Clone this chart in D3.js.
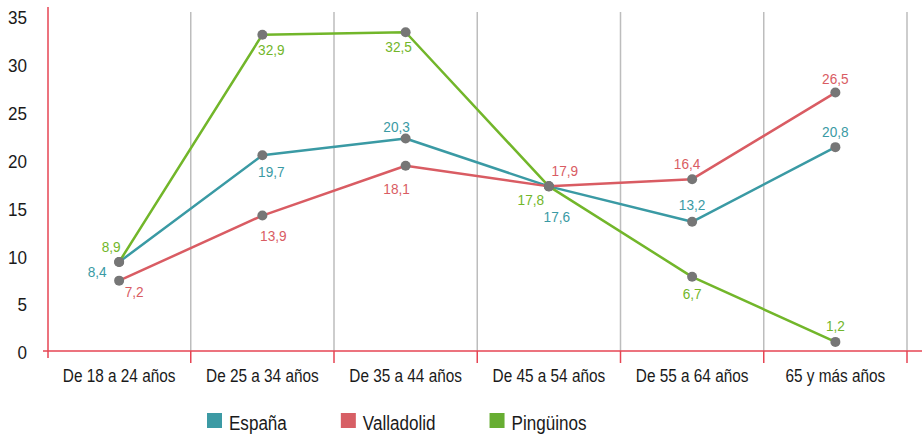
<!DOCTYPE html>
<html>
<head>
<meta charset="utf-8">
<script src="https://cdn.jsdelivr.net/npm/d3@7"></script>
<style>
  body { margin: 0; background: #fff; }
  svg text { font-family: "Liberation Sans", Arial, sans-serif; }
</style>
</head>
<body>
<script>
// Categories and series (point positions)
var categories = ["De 18 a 24 años", "De 25 a 34 años", "De 35 a 44 años", "De 45 a 54 años", "De 55 a 64 años", "65 y más años"];
var seriesNames = ["España", "Valladolid", "Pingüinos"];
var espana = [9.3, 20.45, 22.2, 17.2, 13.5, 21.3];
var valladolid = [7.35, 14.15, 19.35, 17.2, 17.95, 27.0];
var pinguinos = [9.3, 33.05, 33.3, 17.2, 7.75, 0.95];
// printed value labels
var espanaLabels = ["8,4", "19,7", "20,3", "17,6", "13,2", "20,8"];
var valladolidLabels = ["7,2", "13,9", "18,1", "17,9", "16,4", "26,5"];
var pinguinosLabels = ["8,9", "32,9", "32,5", "17,8", "6,7", "1,2"];
var yTicks = [0, 5, 10, 15, 20, 25, 30, 35];

var colors = ["#3a9aa4", "#d95c63", "#72b62a"];
var legendColors = ["#3c9aa4", "#d75f65", "#67ad32"];
// label offsets from each point (centre of text)
var labelOffsets = [
  [[-22, 9], [9, 16], [-9, -12], [8, 30], [0, -18], [0, -16]],
  [[15, 11], [11, 20], [-9, 22], [16, -16], [-5, -16], [0, -14]],
  [[-8, -16], [9, 15], [-7, 14], [-18, 13], [0, 16], [0, -17]]
];

var svgWidth = 922;
var svgHeight = 437;

var svg = d3.select("body")
  .append("svg")
  .attr("width", svgWidth)
  .attr("height", svgHeight);

var xScale = d3.scaleBand()
  .domain(categories)
  .range([47.5, 907]);

var yScale = d3.scaleLinear()
  .domain([0, 35])
  .range([351, 16]);

var axisRed = "#e64553";
var textColor = "#1a1a1a";

// gray separators between categories
svg.append("g")
  .selectAll("line")
  .data(categories)
  .enter()
  .append("line")
  .attr("x1", d => xScale(d) + xScale.step())
  .attr("x2", d => xScale(d) + xScale.step())
  .attr("y1", 12)
  .attr("y2", 351)
  .attr("stroke", "#bdbdbd")
  .attr("stroke-width", 1.5);

// x axis: labels from the axis, red baseline and ticks at band edges
var xAxis = d3.axisBottom(xScale).tickSize(0).tickPadding(18);
var xg = svg.append("g")
  .attr("transform", "translate(0,351)")
  .call(xAxis);
xg.select(".domain").remove();
xg.selectAll("text")
  .attr("fill", textColor)
  .attr("transform", "scale(0.83,1)")
  .style("font-size", "18.5px");

svg.append("line")
  .attr("x1", 43).attr("x2", 922)
  .attr("y1", 351).attr("y2", 351)
  .attr("stroke", axisRed).attr("stroke-width", 1.5);

svg.append("g")
  .selectAll("line")
  .data(categories)
  .enter()
  .append("line")
  .attr("x1", d => xScale(d) + xScale.step())
  .attr("x2", d => xScale(d) + xScale.step())
  .attr("y1", 351)
  .attr("y2", 363)
  .attr("stroke", axisRed)
  .attr("stroke-width", 1.5);

// y axis
var yAxis = d3.axisLeft(yScale).tickValues(yTicks).tickSize(0).tickPadding(0);
var yg = svg.append("g")
  .attr("transform", "translate(48,0)")
  .call(yAxis);
yg.select(".domain").remove();
yg.selectAll("text")
  .attr("x", 0)
  .attr("dy", "0.43em")
  .attr("fill", textColor)
  .attr("transform", "translate(-21,0) scale(0.95,1)")
  .style("font-size", "18px");

svg.append("line")
  .attr("x1", 48).attr("x2", 48)
  .attr("y1", 7).attr("y2", 358)
  .attr("stroke", axisRed).attr("stroke-width", 1.5);

// lines
var allSeries = [espana, valladolid, pinguinos];
var allLabels = [espanaLabels, valladolidLabels, pinguinosLabels];
var xc = d => xScale(d) + xScale.bandwidth() / 2;

var line = d3.line()
  .x((d, i) => xc(categories[i]))
  .y(d => yScale(d));

allSeries.forEach(function(values, s) {
  svg.append("path")
    .datum(values)
    .attr("d", line)
    .attr("fill", "none")
    .attr("stroke", colors[s])
    .attr("stroke-width", 2.5)
    .attr("stroke-linejoin", "round");
});

// points
allSeries.forEach(function(values) {
  svg.append("g")
    .selectAll("circle")
    .data(values)
    .enter()
    .append("circle")
    .attr("cx", (d, i) => xc(categories[i]))
    .attr("cy", d => yScale(d))
    .attr("r", 5)
    .attr("fill", "#767676");
});

// value labels
allSeries.forEach(function(values, s) {
  svg.append("g")
    .selectAll("text")
    .data(values)
    .enter()
    .append("text")
    .attr("transform", (d, i) => `translate(${xc(categories[i]) + labelOffsets[s][i][0]},${yScale(d) + labelOffsets[s][i][1]}) scale(0.88,1)`)
    .attr("dy", "0.37em")
    .attr("text-anchor", "middle")
    .attr("fill", colors[s])
    .style("font-size", "15.5px")
    .text((d, i) => allLabels[s][i]);
});

// legend
var legend = svg.append("g").attr("transform", "translate(207,413)");
var lx = 0;
seriesNames.forEach(function(name, i) {
  var item = legend.append("g").attr("transform", `translate(${lx},0)`);
  item.append("rect")
    .attr("width", 15).attr("height", 15)
    .attr("fill", legendColors[i]);
  var t = item.append("text")
    .attr("transform", "translate(22,17) scale(0.875,1)")
    .attr("fill", textColor)
    .style("font-size", "19.5px")
    .text(name);
  lx += 22 + t.node().getComputedTextLength() * 0.875 + 54;
});
</script>
</body>
</html>
